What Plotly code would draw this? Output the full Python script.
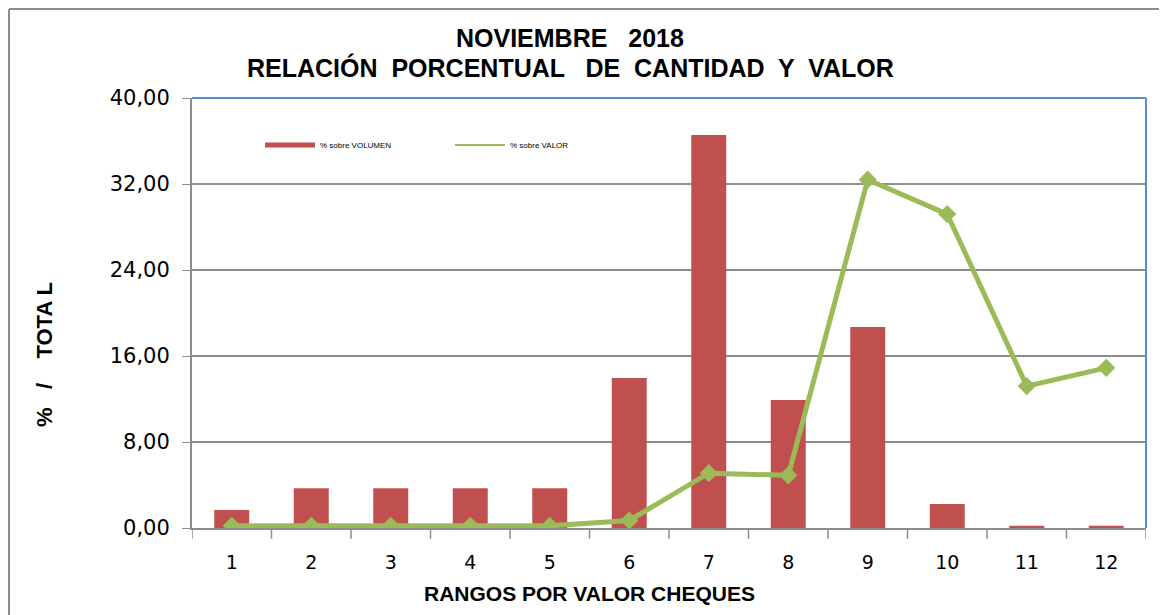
import plotly.graph_objects as go

categories = ["1", "2", "3", "4", "5", "6", "7", "8", "9", "10", "11", "12"]
volumen = [1.67, 3.7, 3.7, 3.7, 3.7, 13.95, 36.56, 11.9, 18.7, 2.23, 0.2, 0.2]
valor = [0.2, 0.2, 0.2, 0.2, 0.2, 0.7, 5.1, 4.9, 32.4, 29.2, 13.2, 14.9]
y_ticks = [0, 8, 16, 24, 32, 40]

RED = "#C0504D"
GREEN = "#9BBB59"

fig = go.Figure()
fig.add_trace(go.Bar(x=categories, y=volumen, marker=dict(color=RED, line=dict(width=0)),
                     width=0.44, showlegend=False, name="% sobre VOLUMEN"))
fig.add_trace(go.Scatter(x=categories, y=valor, mode="lines+markers",
                         line=dict(color=GREEN, width=5),
                         marker=dict(symbol="diamond", size=14, color=GREEN),
                         showlegend=False, name="% sobre VALOR"))
# legend entries (line style samples)
fig.add_trace(go.Scatter(x=[None], y=[None], mode="lines", line=dict(color=RED, width=5),
                         name="% sobre VOLUMEN"))
fig.add_trace(go.Scatter(x=[None], y=[None], mode="lines", line=dict(color=GREEN, width=2),
                         name="% sobre VALOR"))

W, H = 1167, 615
L, R, T, B = 184, 29, 90, 95
pw, ph = W - L - R, H - T - B

def px_x(x):
    return (x - L) / pw

def px_y(y):
    return (H - B - y) / ph

fig.update_layout(
    width=W, height=H,
    margin=dict(l=L, r=R, t=T, b=B),
    paper_bgcolor="white", plot_bgcolor="white",
    separators=",.",
    font=dict(family="Liberation Sans, Arial, sans-serif", color="#000"),
    legend=dict(orientation="h", x=px_x(252), y=px_y(137), xanchor="left", yanchor="middle",
                font=dict(size=8), itemwidth=50, entrywidth=125, bgcolor="rgba(0,0,0,0)"),
    xaxis=dict(showline=True, linecolor="#8C8C8C", linewidth=2, mirror=False,
               ticks="outside", ticklen=0, ticklabelstandoff=16,
               tickfont=dict(size=19, family="DejaVu Sans, sans-serif"),
               showgrid=False, range=[-0.5, 11.5]),
    yaxis=dict(range=[0, 40], tickvals=y_ticks, tickformat=".2f",
               showline=True, linecolor="#8C8C8C", linewidth=2,
               ticks="outside", ticklen=8, tickcolor="#8C8C8C", ticklabelstandoff=8,
               tickfont=dict(size=21, family="DejaVu Sans, sans-serif"),
               showgrid=True, gridcolor="#8C8C8C", gridwidth=1.5, zeroline=False),
    bargap=0.5,
)

# category separator ticks on x axis
for i in range(13):
    fig.add_shape(type="line", xref="x", yref="paper", x0=i - 0.5, x1=i - 0.5, y0=0, y1=-0.025,
                  line=dict(color="#8C8C8C", width=1.5))

# blue top/right plot borders
fig.add_shape(type="line", xref="paper", yref="paper", x0=0, x1=1, y0=1, y1=1,
              line=dict(color="#5B8BD0", width=2))
fig.add_shape(type="line", xref="paper", yref="paper", x0=1, x1=1, y0=0, y1=1,
              line=dict(color="#5B8BD0", width=2))

# outer chart border (left & top)
fig.add_shape(type="line", xref="paper", yref="paper", x0=px_x(1), x1=px_x(1300), y0=px_y(1), y1=px_y(1),
              line=dict(color="#8C8C8C", width=2))
fig.add_shape(type="line", xref="paper", yref="paper", x0=px_x(1), x1=px_x(1), y0=px_y(1), y1=px_y(700),
              line=dict(color="#8C8C8C", width=2))

# titles
ann = dict(xref="paper", yref="paper", showarrow=False, xanchor="center", yanchor="middle")
fig.add_annotation(text="<b>NOVIEMBRE   2018</b>", x=px_x(562), y=px_y(30),
                   font=dict(size=25), **ann)
fig.add_annotation(text="<b>RELACIÓN  PORCENTUAL   DE  CANTIDAD  Y  VALOR</b>",
                   x=px_x(562), y=px_y(59), font=dict(size=25), **ann)
fig.add_annotation(text="<b>RANGOS POR VALOR CHEQUES</b>", x=px_x(581), y=px_y(585),
                   font=dict(size=21), **ann)
fig.add_annotation(text="<b>%   /    TOTA L</b>", x=px_x(36), y=px_y(347), textangle=-90,
                   font=dict(size=22), **ann)

fig.write_html("out.html")
